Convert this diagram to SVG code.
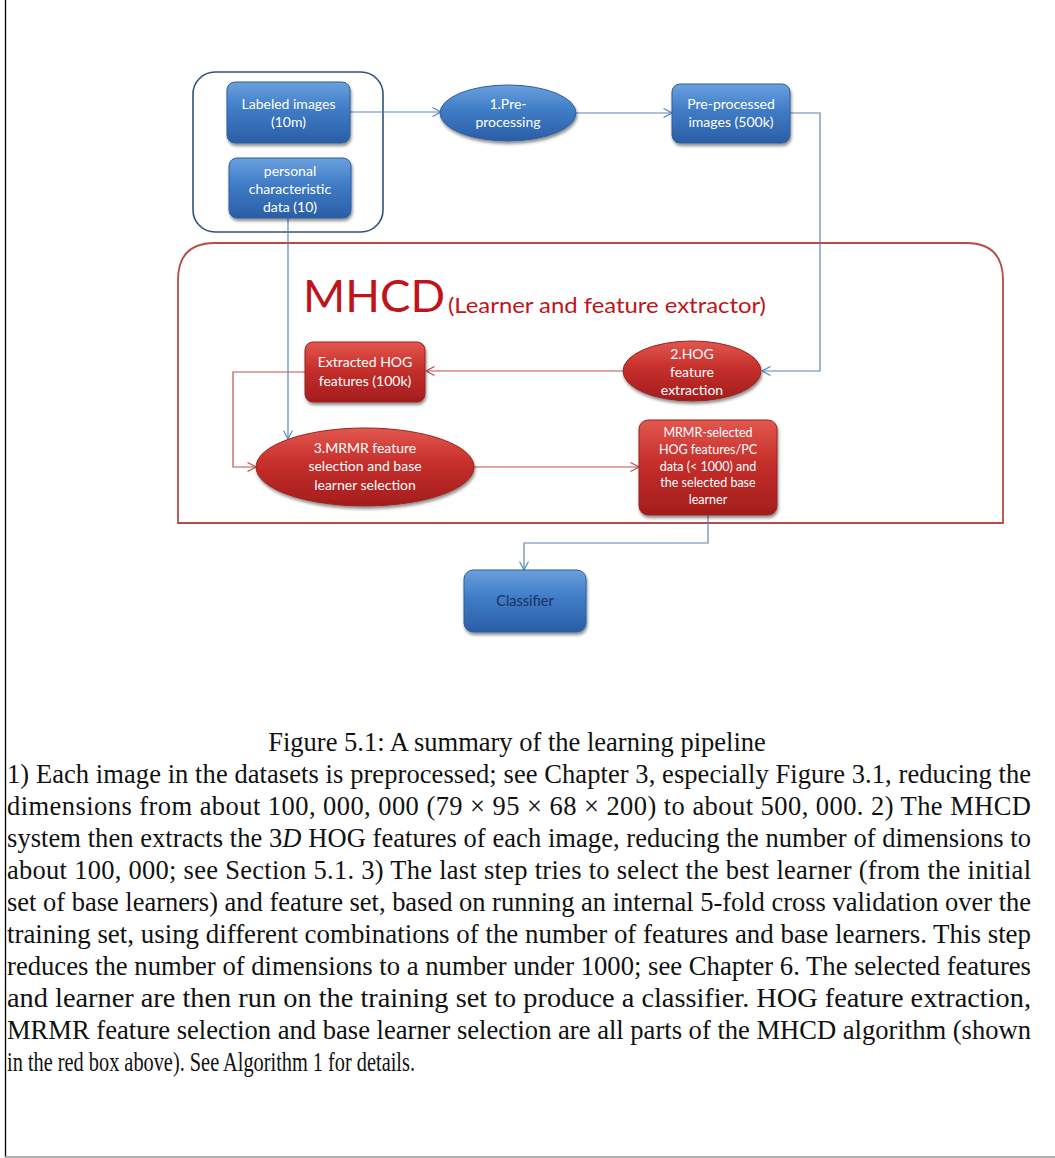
<svg xmlns="http://www.w3.org/2000/svg" width="1055" height="1158" viewBox="0 0 1055 1158">
<defs>
<linearGradient id="gBlue" x1="0" y1="0" x2="0" y2="1">
<stop offset="0" stop-color="#6aa0de"/>
<stop offset="0.45" stop-color="#3f7cc6"/>
<stop offset="1" stop-color="#2a5ea6"/>
</linearGradient>
<linearGradient id="gRed" x1="0" y1="0" x2="0" y2="1">
<stop offset="0" stop-color="#e2574f"/>
<stop offset="0.45" stop-color="#c62f2b"/>
<stop offset="1" stop-color="#a31d1d"/>
</linearGradient>
<filter id="sh" x="-20%" y="-20%" width="140%" height="150%">
<feDropShadow dx="1" dy="2.5" stdDeviation="1.8" flood-color="#000" flood-opacity="0.45"/>
</filter>
<marker id="aB" viewBox="0 0 10 10" refX="9.5" refY="5" markerWidth="10" markerHeight="10" markerUnits="userSpaceOnUse" orient="auto">
<path d="M1,0.5 L9.5,5 L1,9.5" fill="none" stroke="#5b86b8" stroke-width="1.2"/>
</marker>
<marker id="aR" viewBox="0 0 10 10" refX="9.5" refY="5" markerWidth="10" markerHeight="10" markerUnits="userSpaceOnUse" orient="auto">
<path d="M1,0.5 L9.5,5 L1,9.5" fill="none" stroke="#b9514e" stroke-width="1.2"/>
</marker>
</defs>
<style>
.bn{fill:url(#gBlue);stroke:#2f5f9c;stroke-width:1;filter:url(#sh)}
.rn{fill:url(#gRed);stroke:#9a2320;stroke-width:1;filter:url(#sh)}
.nt{font-family:Lato,"Open Sans",sans-serif;font-size:14px;fill:#ffffff;text-anchor:middle}
.ns{font-family:Lato,"Open Sans",sans-serif;font-size:12.5px;fill:#ffffff;text-anchor:middle}
.cb{fill:none;stroke:#5b86b8;stroke-width:1.2}
.cr{fill:none;stroke:#b9514e;stroke-width:1.2}
.cap{font-family:"Liberation Serif","Times New Roman",serif;font-size:26.5px;fill:#111}
</style>

<!-- page frame -->
<line x1="5.5" y1="0" x2="5.5" y2="1157" stroke="#000" stroke-width="1.3"/>
<line x1="5" y1="1157" x2="1055" y2="1157" stroke="#999" stroke-width="1.5"/>

<!-- group frames -->
<g id="inputs-group">
<rect x="193" y="72" width="190" height="160" rx="22" ry="22" fill="none" stroke="#31537e" stroke-width="1.6"/>
</g>
<g id="mhcd-group">
<path d="M178,523 L178,280 Q178,243 215,243 L966,243 Q1003,243 1003,280 L1003,523 Z" fill="none" stroke="#b84a47" stroke-width="1.8"/>
<text x="303" y="312" font-family="Lato,'Open Sans',sans-serif" font-size="44" fill="#c0141b" textLength="142" lengthAdjust="spacingAndGlyphs">MHCD</text>
<text x="448" y="313" font-family="Lato,'Open Sans',sans-serif" font-size="22" fill="#c0141b" textLength="318" lengthAdjust="spacingAndGlyphs">(Learner and feature extractor)</text>
</g>

<!-- connectors -->
<g id="connectors">
<line class="cb" x1="350" y1="112" x2="441" y2="112" marker-end="url(#aB)"/>
<line class="cb" x1="576" y1="113" x2="672" y2="113" marker-end="url(#aB)"/>
<polyline class="cb" points="790,113 820,113 820,371 762,371" marker-end="url(#aB)"/>
<line class="cr" x1="623" y1="371" x2="426" y2="371" marker-end="url(#aR)"/>
<polyline class="cr" points="305,372 233,372 233,467 256,467" marker-end="url(#aR)"/>
<line class="cb" x1="288" y1="218" x2="288" y2="439" marker-end="url(#aB)"/>
<line class="cr" x1="474" y1="467" x2="639" y2="467" marker-end="url(#aR)"/>
<polyline class="cb" points="708,515 708,543 524,543 524,570" marker-end="url(#aB)"/>
</g>

<!-- nodes -->
<g id="labeled-images">
<rect class="bn" x="227" y="82" width="123" height="61" rx="8"/>
<text class="nt" x="288.5" y="109">Labeled images</text>
<text class="nt" x="288.5" y="127">(10m)</text>
</g>
<g id="personal-data">
<rect class="bn" x="229" y="158" width="122" height="60" rx="8"/>
<text class="nt" x="290" y="176">personal</text>
<text class="nt" x="290" y="194">characteristic</text>
<text class="nt" x="290" y="212">data (10)</text>
</g>
<g id="preprocessing">
<ellipse class="bn" cx="508" cy="113" rx="68" ry="28"/>
<text class="nt" x="508" y="109">1.Pre-</text>
<text class="nt" x="508" y="127">processing</text>
</g>
<g id="preprocessed-images">
<rect class="bn" x="672" y="84" width="118" height="59" rx="8"/>
<text class="nt" x="731" y="109">Pre-processed</text>
<text class="nt" x="731" y="127">images (500k)</text>
</g>
<g id="hog-extraction">
<ellipse class="rn" cx="692" cy="371" rx="69" ry="30"/>
<text class="nt" x="692" y="359">2.HOG</text>
<text class="nt" x="692" y="377">feature</text>
<text class="nt" x="692" y="395">extraction</text>
</g>
<g id="extracted-hog">
<rect class="rn" x="305" y="342" width="120" height="60" rx="8"/>
<text class="nt" x="365" y="367">Extracted HOG</text>
<text class="nt" x="365" y="386">features (100k)</text>
</g>
<g id="mrmr-selection">
<ellipse class="rn" cx="365" cy="467" rx="109" ry="39"/>
<text class="nt" x="365" y="453">3.MRMR  feature</text>
<text class="nt" x="365" y="471">selection and base</text>
<text class="nt" x="365" y="490">learner selection</text>
</g>
<g id="mrmr-selected">
<rect class="rn" x="639" y="420" width="138" height="95" rx="9"/>
<text class="ns" x="708" y="437">MRMR-selected</text>
<text class="ns" x="708" y="454">HOG features/PC</text>
<text class="ns" x="708" y="471">data (&lt; 1000) and</text>
<text class="ns" x="708" y="487">the selected base</text>
<text class="ns" x="708" y="504">learner</text>
</g>
<g id="classifier">
<rect class="bn" x="464" y="570" width="122" height="62" rx="9"/>
<text x="525" y="606" font-family="Lato,'Open Sans',sans-serif" font-size="14.5" fill="#1d2f5c" text-anchor="middle">Classifier</text>
</g>

<!-- caption -->
<g id="caption">
<text class="cap" x="517" y="751" text-anchor="middle" font-size="28.6">Figure 5.1: A summary of the learning pipeline</text>
<text class="cap" x="7" y="783" textLength="1024" lengthAdjust="spacing">1) Each image in the datasets is preprocessed; see Chapter 3, especially Figure 3.1, reducing the</text>
<text class="cap" x="7" y="815" textLength="1024" lengthAdjust="spacing">dimensions from about 100, 000, 000 (79 × 95 × 68 × 200) to about 500, 000.  2) The MHCD</text>
<text class="cap" x="7" y="847" textLength="1024" lengthAdjust="spacing">system then extracts the 3<tspan font-style="italic">D</tspan> HOG features of each image, reducing the number of dimensions to</text>
<text class="cap" x="7" y="879" textLength="1024" lengthAdjust="spacing">about 100, 000; see Section 5.1.  3) The last step tries to select the best learner (from the initial</text>
<text class="cap" x="7" y="911" textLength="1024" lengthAdjust="spacing">set of base learners) and feature set, based on running an internal 5-fold cross validation over the</text>
<text class="cap" x="7" y="943" textLength="1024" lengthAdjust="spacingAndGlyphs">training set, using different combinations of the number of features and base learners. This step</text>
<text class="cap" x="7" y="975" textLength="1024" lengthAdjust="spacingAndGlyphs">reduces the number of dimensions to a number under 1000; see Chapter 6. The selected features</text>
<text class="cap" x="7" y="1007" textLength="1024" lengthAdjust="spacingAndGlyphs">and learner are then run on the training set to produce a classifier.  HOG feature extraction,</text>
<text class="cap" x="7" y="1039" textLength="1024" lengthAdjust="spacingAndGlyphs">MRMR feature selection and base learner selection are all parts of the MHCD algorithm (shown</text>
<text class="cap" x="7" y="1071" textLength="408" lengthAdjust="spacingAndGlyphs">in the red box above). See Algorithm 1 for details.</text>
</g>
</svg>
